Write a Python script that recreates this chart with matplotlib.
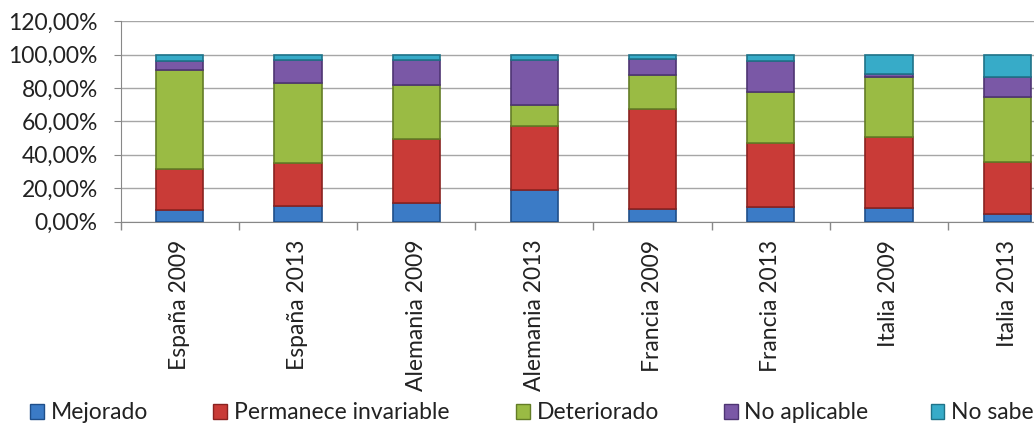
import numpy as np
import matplotlib
matplotlib.use('Agg')
import matplotlib.pyplot as plt
from matplotlib.patches import Patch
from matplotlib.ticker import FuncFormatter, FixedLocator

plt.rcParams['font.family'] = ['Lato', 'DejaVu Sans']

# ── Data (shares in %) ─────────────────────────────────────

categories = ["España 2009", "España 2013", "Alemania 2009", "Alemania 2013",
              "Francia 2009", "Francia 2013", "Italia 2009", "Italia 2013"]
series_names = ["Mejorado", "Permanece invariable", "Deteriorado",
                "No aplicable", "No sabe"]

mejorado = [7.0, 9.4, 11.4, 18.9, 7.6, 9.0, 8.2, 4.6]
permanece = [24.3, 25.6, 37.8, 38.4, 60.1, 37.8, 42.6, 31.2]
deteriorado = [59.3, 47.7, 32.5, 12.4, 19.9, 30.5, 35.5, 38.9]
no_aplicable = [5.4, 14.3, 14.9, 27.3, 10.0, 18.7, 2.3, 11.6]
no_sabe = [4.0, 3.0, 3.4, 3.0, 2.4, 4.0, 11.4, 13.7]

values = [mejorado, permanece, deteriorado, no_aplicable, no_sabe]
face_colors = ["#3b7bc6", "#c93b37", "#9abb44", "#7a58a6", "#37abc8"]
edge_colors = ["#1f4f8a", "#8a2220", "#637d26", "#4e3573", "#1f7389"]

# ── Plot ──────────────────────────────────────────────────

fig = plt.figure(figsize=(10.34, 4.23), dpi=100)
ax = fig.add_axes([0.1167, 0.476, 0.9145, 0.474])

x = np.arange(len(categories))
bottom = np.zeros(len(categories))
handles = []
for name, vals, fc, ec in zip(series_names, values, face_colors, edge_colors):
    vals = np.array(vals)
    ax.bar(x, vals, bottom=bottom, width=0.4, color=fc, edgecolor=ec,
           linewidth=1.2, zorder=3)
    bottom += vals
    handles.append(Patch(facecolor=fc, edgecolor=ec, linewidth=1, label=name))

ax.set_xlim(-0.5, len(categories) - 0.5)
ax.set_ylim(0, 120)
ax.set_yticks(np.arange(0, 121, 20))
ax.yaxis.set_major_formatter(
    FuncFormatter(lambda v, p: f"{v:.2f}%".replace('.', ',')))
ax.grid(axis='y', color='#a6a6a6', linewidth=1, zorder=0)

ax.set_xticks(x)
ax.set_xticklabels(categories, rotation=90, fontsize=16.5, color='#222222')
ax.xaxis.set_minor_locator(FixedLocator(np.arange(-0.5, len(categories), 1)))
ax.tick_params(axis='x', which='major', length=0, pad=13)
ax.tick_params(axis='x', which='minor', length=6, color='#888888', width=1)
ax.tick_params(axis='y', length=5, color='#888888', labelsize=16.5,
               labelcolor='#222222', pad=11.5)

for side in ['top', 'right']:
    ax.spines[side].set_visible(False)
for side in ['left', 'bottom']:
    ax.spines[side].set_color('#888888')

# legend entries placed where the original puts them
legend_x = [0.029, 0.206, 0.499, 0.700, 0.900]
for h, lx in zip(handles, legend_x):
    leg = fig.legend(handles=[h], loc='center left', bbox_to_anchor=(lx, 0.024),
                     frameon=False, fontsize=16.5, handlelength=0.6,
                     handleheight=0.6, handletextpad=0.3, borderpad=0,
                     borderaxespad=0)
    for t in leg.get_texts():
        t.set_color('#222222')

fig.savefig("out.png", dpi=100)
